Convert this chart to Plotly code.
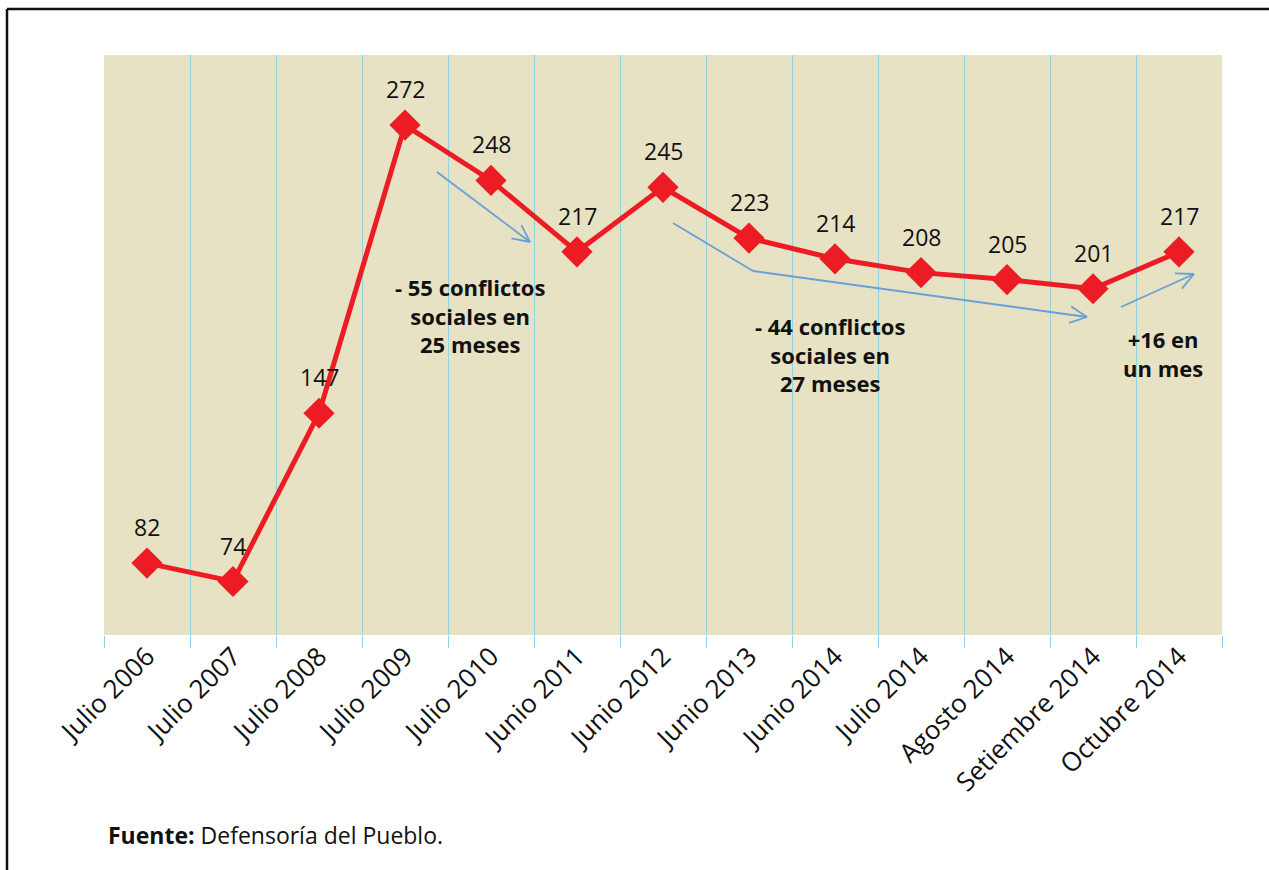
import math
import plotly.graph_objects as go

categories = ["Julio 2006", "Julio 2007", "Julio 2008", "Julio 2009", "Julio 2010",
              "Junio 2011", "Junio 2012", "Junio 2013", "Junio 2014", "Julio 2014",
              "Agosto 2014", "Setiembre 2014", "Octubre 2014"]
values = [82, 74, 147, 272, 248, 217, 245, 223, 214, 208, 205, 201, 217]

note_1 = ["- 55 conflictos", "sociales en", "25 meses"]
note_2 = ["- 44 conflictos", "sociales en", "27 meses"]
note_3 = ["+16 en", "un mes"]
source = "<b>Fuente:</b> Defensoría del Pueblo."

W, H = 1269, 870
L, R, T, B = 104, 1222, 55, 635
FONT = "Open Sans"
RED = "#ed1c24"
BLUE = "#6a9fd8"
GRID = "#8fd4e2"


def px(x, y):
    return (x - L) / (R - L), (B - y) / (B - T)


fig = go.Figure()
fig.add_trace(go.Scatter(
    x=categories, y=values, mode="lines+markers",
    line=dict(color=RED, width=5),
    marker=dict(symbol="diamond", size=24, color=RED),
    hoverinfo="x+y", showlegend=False,
))

annotations = []
for c, v in zip(categories, values):
    annotations.append(dict(x=c, y=v, text=str(v), showarrow=False, yshift=36,
                            font=dict(family=FONT, size=23, color="#111")))


def note(lines, cx, cy):
    x, y = px(cx, cy)
    annotations.append(dict(xref="paper", yref="paper", x=x, y=y, text="<br>".join(lines),
                            showarrow=False, xanchor="center", yanchor="middle",
                            align="center", borderpad=0,
                            font=dict(family=FONT, size=22, color="#111", weight="bold")))


note(note_1, 470, 315)
note(note_2, 830, 354)
note(note_3, 1163, 353)

fx, fy = px(106, 835)
annotations.append(dict(xref="paper", yref="paper", x=fx, y=fy, text=source,
                        showarrow=False, xanchor="left", yanchor="middle",
                        font=dict(family=FONT, size=23, color="#111")))

shapes = []


def seg(x0, y0, x1, y1, color=BLUE, width=1.8):
    a, b = px(x0, y0)
    c, d = px(x1, y1)
    shapes.append(dict(type="line", xref="paper", yref="paper", x0=a, y0=b, x1=c, y1=d,
                       line=dict(color=color, width=width)))


def arrow(points):
    for (x0, y0), (x1, y1) in zip(points[:-1], points[1:]):
        seg(x0, y0, x1, y1)
    (x0, y0), (x1, y1) = points[-2], points[-1]
    ang = math.atan2(y1 - y0, x1 - x0)
    for s in (1, -1):
        a = ang + math.pi + s * math.radians(26)
        seg(x1, y1, x1 + 19 * math.cos(a), y1 + 19 * math.sin(a))


arrow([(437, 172), (530, 242)])
arrow([(673, 223), (753, 271), (1087, 317)])
arrow([(1121, 307), (1194, 274)])

# outer frame
seg(7, 9, 1275, 9, color="#111", width=2.5)
seg(7, 9, 7, 880, color="#111", width=2.5)

fig.update_layout(
    width=W, height=H,
    margin=dict(l=L, r=W - R, t=T, b=H - B),
    paper_bgcolor="white", plot_bgcolor="#e7e2c4",
    font=dict(family=FONT, size=20, color="#111"),
    annotations=annotations, shapes=shapes,
    xaxis=dict(type="category", tickson="boundaries", showgrid=True, gridcolor=GRID,
               gridwidth=1, ticks="outside", ticklen=12, tickcolor=GRID, tickwidth=1,
               tickangle=-45, tickfont=dict(family=FONT, size=26, color="#111"),
               showline=False, zeroline=False, range=[-0.5, len(categories) - 0.5]),
    yaxis=dict(range=[50.8, 302.4], showgrid=False, showticklabels=False, ticks="",
               zeroline=False, showline=False),
)

fig.write_html("out.html", post_script="document.body.style.margin='0';",
               config={"displayModeBar": False})
